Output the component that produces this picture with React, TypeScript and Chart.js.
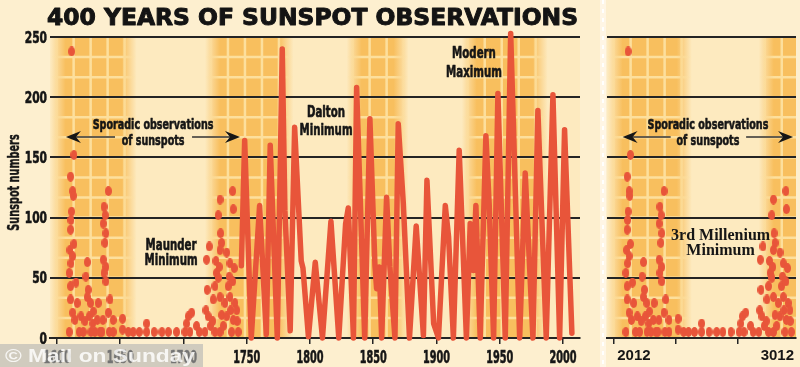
import React, { useEffect, useRef } from 'react';
import { Chart, registerables } from 'chart.js';
Chart.register(...registerables);

// ---------- data ----------
const lineYears = [
  1745.8, 1748.4, 1753.6, 1760.2, 1765.5, 1768.6, 1774.2, 1778.1, 1780.2, 1784.4,
  1787.9, 1793.1, 1794.5, 1798.8, 1804.2, 1809.9, 1816.6, 1822.8, 1828.2, 1830.3,
  1834.4, 1836.9, 1843.3, 1847.4, 1851.4, 1852.7, 1854.8, 1856.7, 1860.6, 1863.2,
  1867.2, 1869.8, 1873.8, 1878.7, 1884.0, 1889.7, 1892.5, 1897.8, 1901.6, 1907.0,
  1909.6, 1913.4, 1918.0, 1923.7, 1926.7, 1929.2, 1931.2, 1934.6, 1939.1, 1941.7,
  1945.2, 1948.6, 1954.4, 1958.7, 1965.8, 1970.2, 1976.3, 1980.2, 1986.8, 1992.1,
  1997.4, 2001.3, 2007.1,
];
const lineValues = [
  60, 164, 0, 110, 3, 160, 0, 240, 106, 6,
  175, 64, 58, 1, 63, 0, 97, 0, 95, 108,
  0, 208, 0, 182, 60, 41, 59, 0, 117, 59,
  0, 178, 112, 0, 93, 2, 131, 12, 0, 110,
  84, 0, 156, 0, 95, 56, 110, 0, 168, 111,
  0, 203, 0, 253, 0, 137, 0, 189, 0, 202,
  0, 173, 4,
];

const dotYears = [
  1611.6, 1613.4, 1610.8, 1612.4, 1612.9, 1611.6, 1611.1, 1610.8, 1613.4, 1610.3,
  1612.4, 1611.1, 1609.7, 1615.0, 1610.8, 1610.8, 1616.0, 1612.4, 1614.2, 1619.0,
  1609.7, 1617.6,
  1624.0, 1622.9, 1624.7, 1624.0, 1626.6, 1625.5, 1622.1, 1620.8, 1628.7, 1628.2,
  1632.6, 1630.0, 1631.9, 1634.0, 1626.9,
  1640.6, 1637.2, 1638.2, 1636.6, 1638.7, 1637.9, 1636.6, 1638.7, 1637.2, 1638.7,
  1641.9, 1640.6, 1641.3, 1644.5, 1644.5, 1636.4, 1635.6,
  1651.9, 1651.9, 1656.4, 1660.3, 1665.1, 1670.9, 1670.9, 1676.9, 1683.0, 1688.0,
  1694.6, 1701.2, 1702.5, 1703.8, 1706.5, 1705.1, 1710.4, 1712.5,
  1717.0, 1717.8, 1718.3, 1718.8, 1719.6, 1720.4, 1721.5, 1723.1, 1723.6, 1724.9,
  1726.2, 1725.7, 1728.9, 1727.5, 1729.4, 1730.2, 1728.9, 1728.3, 1727.5, 1728.9,
  1730.2, 1728.9, 1731.5, 1734.2, 1736.8, 1736.2, 1735.4, 1736.8, 1738.9, 1739.4,
  1740.2, 1738.9, 1740.7, 1742.1, 1742.5, 1743.3, 1739.4, 1737.3, 1732.8, 1734.2,
  1738.1, 1724.9,
];
const dotValues = [
  238, 152, 134, 122, 118, 105, 98, 90, 78, 73,
  68, 62, 54, 46, 43, 32, 29, 21, 15, 18,
  5, 5,
  63, 51, 40, 34, 29, 18, 14, 5, 22, 12,
  29, 5, 15, 5, 5,
  122, 109, 102, 95, 87, 79, 65, 59, 54, 47,
  32, 21, 5, 15, 5, 15, 5,
  16, 7, 5, 5, 5, 12, 5, 5, 5, 5,
  5, 5, 12, 18, 21, 5, 10, 5,
  5, 23, 65, 40, 18, 76, 10, 14, 32, 43,
  54, 64, 115, 102, 87, 79, 73, 59, 50, 34,
  19, 5, 10, 71, 62, 51, 43, 34, 122, 107,
  58, 47, 29, 23, 14, 5, 15, 23, 29, 18,
  5, 5,
];

const xTickYears = [1600, 1650, 1700, 1750, 1800, 1850, 1900, 1950, 2000];
const yTickValues = [0, 50, 100, 150, 200, 250];
const rightTickYears = [1600, 1650, 1700];
const rightLabelYears = [1616.2, 1732.0];
const rightLabels = ['2012', '3012'];
const bandStarts = [1595, 1717, 1829, 1920];
const bandEnds = [1663, 1787, 1878, 1988];

const TITLE = '400 YEARS OF SUNSPOT OBSERVATIONS';
const Y_TITLE = 'Sunspot numbers';
const WATERMARK = '© Mail on Sunday';

// ---------- style ----------
const RED = '#e8553a';
const INK = '#242424';
const TEXT = '#161616';
const PAGE_BG = '#fdefcf';
const PLOT_BG = '#fdeabf';
const COND = "'DejaVu Sans Condensed', 'DejaVu Sans', sans-serif";

type Note = { lines: string[]; x: number; ys: number[]; size: number; sx: number; serif?: boolean };

// ys are baseline positions in data units
const sporadicNote: Note = {
  lines: ['Sporadic observations', 'of sunspots'], x: 1676, ys: [173.6, 160.3], size: 14.8, sx: 0.72,
};
const leftNotes: Note[] = [
  sporadicNote,
  { lines: ['Maunder', 'Minimum'], x: 1690.2, ys: [73.1, 60.6], size: 15.8, sx: 0.72 },
  { lines: ['Dalton', 'Minimum'], x: 1812.7, ys: [183.8, 168.6], size: 15.8, sx: 0.72 },
  { lines: ['Modern', 'Maximum'], x: 1929.7, ys: [232.3, 217.0], size: 15.8, sx: 0.72 },
];
const rightNotes: Note[] = [
  sporadicNote,
  { lines: ['3rd Millenium', 'Minimum'], x: 1686.2, ys: [81.4, 68.9], size: 16, sx: 1, serif: true },
];
const arrowSpec = { y: 166.9, from: 1607.1, gapFrom: 1645.9, gapTo: 1706.8, to: 1744.7 };

function makeDot(w: number, h: number) {
  const c = document.createElement('canvas');
  c.width = w; c.height = h;
  const g = c.getContext('2d')!;
  g.fillStyle = RED;
  g.beginPath();
  g.ellipse(w / 2, h / 2, w / 2, h / 2, 0, 0, Math.PI * 2);
  g.fill();
  return c;
}

function scaledText(ctx: CanvasRenderingContext2D, text: string, x: number, y: number, font: string, sx: number,
  align: CanvasTextAlign, rot = 0, weightStroke = 0) {
  ctx.save();
  ctx.font = font;
  ctx.textAlign = align;
  ctx.textBaseline = 'alphabetic';
  ctx.translate(x, y);
  if (rot) ctx.rotate(rot);
  ctx.scale(sx, 1);
  ctx.fillText(text, 0, 0);
  if (weightStroke > 0) {
    ctx.strokeStyle = ctx.fillStyle as string;
    ctx.lineWidth = weightStroke;
    ctx.lineJoin = 'round';
    ctx.strokeText(text, 0, 0);
  }
  ctx.restore();
}

function bgPlugin(isLeft: boolean) {
  return {
    id: 'bgBands',
    beforeDraw(chart: any) {
      const { ctx, chartArea: a, width, height } = chart;
      const xs = chart.scales.x, ys = chart.scales.y;
      ctx.save();
      ctx.fillStyle = PAGE_BG;
      ctx.fillRect(0, 0, width, height);
      if (!isLeft) {
        ctx.fillStyle = 'rgba(255,250,238,0.7)';
        ctx.fillRect(0, 0, 6, height);
        ctx.strokeStyle = 'rgba(255,255,255,0.95)';
        ctx.lineWidth = 2;
        ctx.setLineDash([4, 5]);
        ctx.beginPath(); ctx.moveTo(3, 0); ctx.lineTo(3, height); ctx.stroke();
        ctx.setLineDash([]);
      }
      ctx.fillStyle = PLOT_BG;
      ctx.fillRect(a.left, a.top, a.right - a.left, a.bottom - a.top);
      ctx.beginPath();
      ctx.rect(a.left, a.top, a.right - a.left, a.bottom - a.top);
      ctx.clip();
      for (let i = 0; i < bandStarts.length; i++) {
        const p0 = xs.getPixelForValue(bandStarts[i]);
        const p1 = xs.getPixelForValue(bandEnds[i]);
        if (p1 < a.left || p0 > a.right) continue;
        const w = p1 - p0;
        const f = Math.min(15 / w, 0.35);
        const g = ctx.createLinearGradient(p0, 0, p1, 0);
        g.addColorStop(0, 'rgba(248,191,94,0)');
        g.addColorStop(f, 'rgba(248,191,94,1)');
        g.addColorStop(1 - f, 'rgba(248,191,94,1)');
        g.addColorStop(1, 'rgba(248,191,94,0)');
        ctx.fillStyle = g;
        ctx.fillRect(p0, a.top, w, a.bottom - a.top);
        const gl = ctx.createLinearGradient(p0, 0, p1, 0);
        gl.addColorStop(0, 'rgba(253,225,160,0)');
        gl.addColorStop(f, 'rgba(253,225,160,0.95)');
        gl.addColorStop(1 - f, 'rgba(253,225,160,0.95)');
        gl.addColorStop(1, 'rgba(253,225,160,0)');
        ctx.strokeStyle = gl;
        ctx.lineWidth = 2.5;
        ctx.beginPath();
        for (let px = p0 + 6; px < p1 - 3; px += 17) {
          ctx.moveTo(px, a.top); ctx.lineTo(px, a.bottom);
        }
        for (let v = 250 - 50 / 3; v > 1; v -= 50 / 3) {
          const py = ys.getPixelForValue(v);
          ctx.moveTo(p0, py); ctx.lineTo(p1, py);
        }
        ctx.stroke();
      }
      ctx.restore();
    },
  };
}

function drawDart(ctx: CanvasRenderingContext2D, tipX: number, y: number, dir: number) {
  ctx.beginPath();
  ctx.moveTo(tipX, y);
  ctx.lineTo(tipX - dir * 15, y - 6);
  ctx.lineTo(tipX - dir * 10, y);
  ctx.lineTo(tipX - dir * 15, y + 6);
  ctx.closePath();
  ctx.fill();
}

function overlayPlugin(isLeft: boolean) {
  return {
    id: 'overlay',
    afterDraw(chart: any) {
      const { ctx, chartArea: a } = chart;
      const xs = chart.scales.x, ys = chart.scales.y;
      ctx.save();
      ctx.fillStyle = TEXT;
      for (const n of (isLeft ? leftNotes : rightNotes)) {
        const font = n.serif
          ? `bold ${n.size}px 'Liberation Serif', 'DejaVu Serif', serif`
          : `bold ${n.size}px ${COND}`;
        n.lines.forEach((t, i) =>
          scaledText(ctx, t, xs.getPixelForValue(n.x), ys.getPixelForValue(n.ys[i]), font, n.sx, 'center', 0, n.serif ? 0 : 0.6));
      }
      // arrow
      const ay = ys.getPixelForValue(arrowSpec.y);
      const l = xs.getPixelForValue(arrowSpec.from);
      const le = xs.getPixelForValue(arrowSpec.gapFrom);
      const rs = xs.getPixelForValue(arrowSpec.gapTo);
      const r = xs.getPixelForValue(arrowSpec.to);
      ctx.strokeStyle = '#333';
      ctx.lineWidth = 1.5;
      ctx.beginPath();
      ctx.moveTo(l + 10, ay); ctx.lineTo(le, ay);
      ctx.moveTo(rs, ay); ctx.lineTo(r - 10, ay);
      ctx.stroke();
      ctx.fillStyle = TEXT;
      drawDart(ctx, l, ay, -1);
      drawDart(ctx, r, ay, 1);

      if (isLeft) {
        // tick labels, positioned by the scales
        yTickValues.forEach((v) =>
          scaledText(ctx, String(v), a.left - 3, ys.getPixelForValue(v) + 5.5, `bold 16.5px ${COND}`, 0.72, 'right', 0, 0.6));
        xTickYears.forEach((v) =>
          scaledText(ctx, String(v), xs.getPixelForValue(v), 363, `bold 18px ${COND}`, 0.6, 'center', 0, 0.6));
        // y-axis title
        scaledText(ctx, Y_TITLE, 19, (a.top + a.bottom) / 2 - 5, `bold 15px ${COND}`, 0.72, 'center', -Math.PI / 2, 0.4);
        // title
        ctx.font = `bold 23px 'DejaVu Sans', sans-serif`;
        ctx.textAlign = 'left';
        ctx.textBaseline = 'alphabetic';
        const w = ctx.measureText(TITLE).width;
        ctx.save();
        ctx.translate(47, 25);
        ctx.scale(531 / w, 1);
        ctx.fillStyle = '#141414';
        ctx.strokeStyle = '#141414';
        ctx.lineWidth = 1;
        ctx.lineJoin = 'round';
        ctx.fillText(TITLE, 0, 0);
        ctx.strokeText(TITLE, 0, 0);
        ctx.restore();
        // watermark
        ctx.fillStyle = 'rgba(178,178,178,0.6)';
        ctx.fillRect(0, 344, 203, 23);
        ctx.font = `bold 18px 'Liberation Sans', Arial, sans-serif`;
        const ww = ctx.measureText(WATERMARK).width;
        ctx.save();
        ctx.translate(5, 362);
        ctx.scale(190 / ww, 1);
        ctx.fillStyle = 'rgba(255,255,255,0.82)';
        ctx.textAlign = 'left';
        ctx.fillText(WATERMARK, 0, 0);
        ctx.restore();
      } else {
        ctx.fillStyle = TEXT;
        rightLabels.forEach((t, i) =>
          scaledText(ctx, t, xs.getPixelForValue(rightLabelYears[i]), 360, `bold 15px 'Liberation Sans', Arial, sans-serif`, 1, 'center'));
      }
      ctx.restore();
    },
  };
}

function makeConfig(isLeft: boolean, dot: HTMLCanvasElement): any {
  const datasets: any[] = [
    {
      type: 'scatter',
      data: dotYears.map((x, i) => ({ x, y: dotValues[i] })),
      pointStyle: dot, pointRadius: 4, backgroundColor: RED, borderWidth: 0,
      clip: false, order: 2,
    },
  ];
  if (isLeft) {
    datasets.push({
      type: 'line',
      data: lineYears.map((x, i) => ({ x, y: lineValues[i] })),
      borderColor: RED, borderWidth: 5.5, pointRadius: 0, tension: 0,
      borderJoinStyle: 'round', borderCapStyle: 'round', clip: false, order: 1,
    });
  }
  return {
    type: 'scatter',
    data: { datasets },
    options: {
      animation: false,
      responsive: false,
      events: [],
      layout: {
        padding: isLeft ? { left: 0, right: 20, top: 37, bottom: 0 } : { left: 7, right: 0, top: 37, bottom: 0 },
      },
      plugins: { legend: { display: false }, tooltip: { enabled: false }, title: { display: false } },
      scales: {
        x: {
          type: 'linear',
          min: 1594.5,
          max: isLeft ? 2013.5 : 1747.07,
          afterBuildTicks: (s: any) => { s.ticks = (isLeft ? xTickYears : rightTickYears).map((v) => ({ value: v })); },
          afterFit: (s: any) => { s.height = 29; },
          grid: { display: true, drawOnChartArea: false, drawTicks: true, tickLength: 6, color: INK, lineWidth: 1.5 },
          border: { display: true, color: INK, width: 2 },
          ticks: { display: false },
        },
        y: {
          type: 'linear',
          min: 0, max: 250,
          afterBuildTicks: (s: any) => { s.ticks = yTickValues.map((v) => ({ value: v })); },
          afterFit: (s: any) => { s.width = isLeft ? 50 : 0; },
          grid: { color: INK, lineWidth: 2, drawTicks: false },
          border: { display: false },
          ticks: { display: false },
        },
      },
    },
    plugins: [bgPlugin(isLeft), overlayPlugin(isLeft)],
  };
}

export default function App() {
  const leftRef = useRef<HTMLCanvasElement>(null);
  const rightRef = useRef<HTMLCanvasElement>(null);
  useEffect(() => {
    const dot = makeDot(7, 10);
    const left = new Chart(leftRef.current!, makeConfig(true, dot));
    const right = new Chart(rightRef.current!, makeConfig(false, dot));
    return () => { left.destroy(); right.destroy(); };
  }, []);
  return (
    <div style={{ position: 'fixed', left: 0, top: 0, width: 800, height: 367, background: PAGE_BG, overflow: 'hidden' }}>
      <canvas ref={leftRef} width={600} height={367} style={{ position: 'absolute', left: 0, top: 0, width: 600, height: 367 }} />
      <canvas ref={rightRef} width={200} height={367} style={{ position: 'absolute', left: 600, top: 0, width: 200, height: 367 }} />
    </div>
  );
}
